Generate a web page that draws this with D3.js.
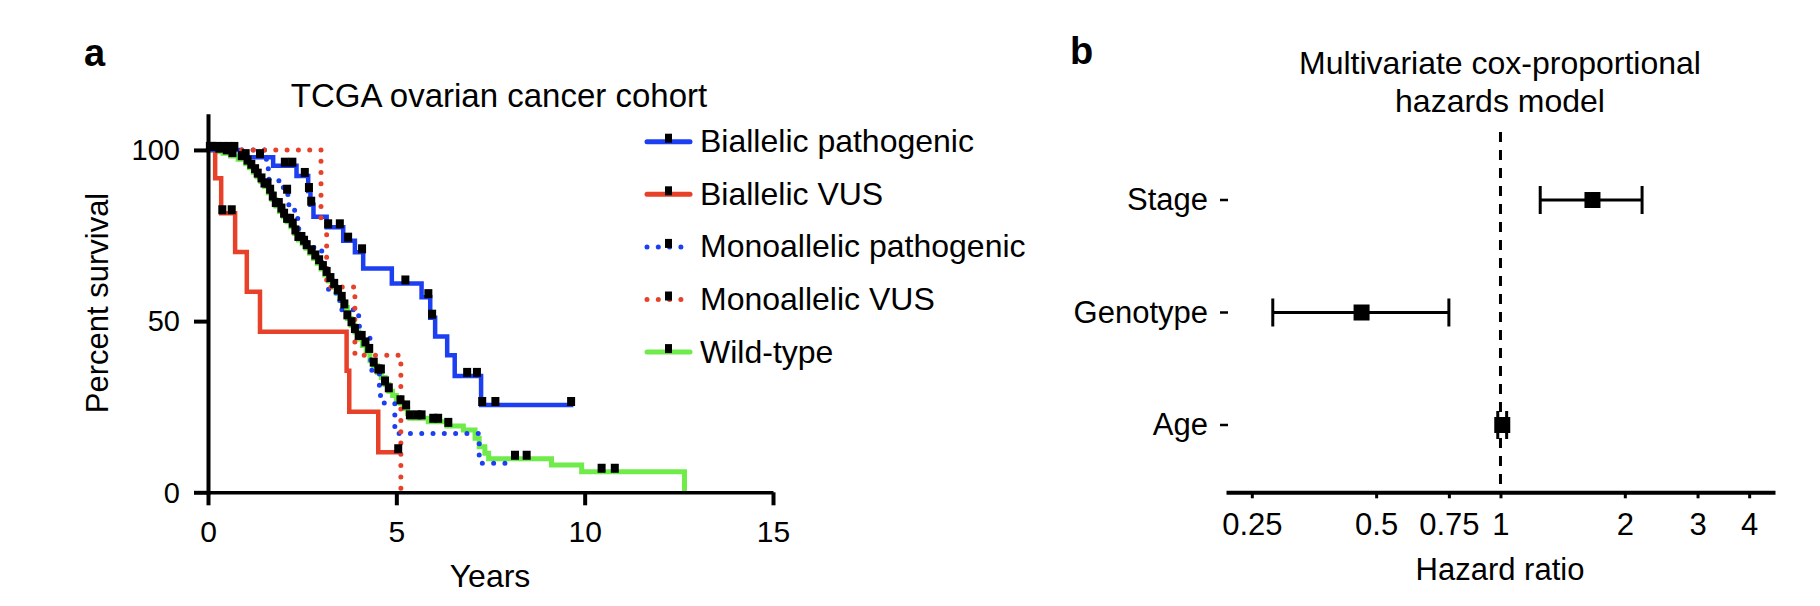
<!DOCTYPE html>
<html>
<head>
<meta charset="utf-8">
<script src="https://cdn.jsdelivr.net/npm/d3@7"></script>
<style>
  body { margin: 0; background: #fff; }
  text { font-family: "Liberation Sans", Arial, Helvetica, sans-serif; fill: #000; }
</style>
</head>
<body>
<svg id="figure" width="1820" height="606"></svg>
<script>
// ---- panel a: Kaplan-Meier survival, TCGA ovarian cohort ----
var yearTicks = [0, 5, 10, 15];
var survivalTicks = [0, 50, 100];
var groupNames = ["Biallelic pathogenic", "Biallelic VUS", "Monoallelic pathogenic", "Monoallelic VUS", "Wild-type"];

// [years, percent surviving] after each step
var biallelicPath = [[0,100],[0.85,97.9],[1.73,95.4],[2.35,92.4],[2.66,88],[2.72,84],[2.8,80.5],[3.15,77.4],[3.59,73.5],[3.9,70.1],[4.12,65.4],[4.88,61],[5.67,57],[5.9,51],[6.03,45.5],[6.35,40],[6.55,34],[7.25,25.5]];
var biallelicPathEnd = 9.7;
var biallelicPathCensor = [0.05,0.15,0.25,0.4,0.55,0.7,1.0,1.38,2.04,2.24,2.57,2.68,2.74,3.19,3.5,3.72,4.09,5.24,5.85,5.95,6.88,7.14,7.28,7.63,9.64];

var biallelicVus = [[0,100],[0.19,91.7],[0.35,81.5],[0.72,70.2],[1.03,58.6],[1.38,46.9],[3.68,35.5],[3.75,23.5],[4.52,11.7]];
var biallelicVusEnd = 5.1;
var biallelicVusCensor = [0.38,0.63,5.05];

var monoallelicPath = [[0,100],[1.55,94.5],[1.62,91],[2.0,87.5],[2.12,84],[2.3,80],[2.4,77],[2.45,73],[2.7,71.5],[3.02,67],[3.15,63],[3.2,59],[3.4,56],[3.55,53.3],[4.0,49],[4.02,45.5],[4.3,41.5],[4.32,38],[4.35,35],[4.55,31],[4.58,28],[4.68,26],[4.96,17.2],[7.2,8.5]];
var monoallelicPathEnd = 7.93;
var monoallelicPathCensor = [2.1];

var monoallelicVus = [[0,100],[3.0,80],[3.15,60],[3.9,40],[5.12,0]];
var monoallelicVusEnd = 5.12;
var monoallelicVusCensor = [];

var wildType = [[0,100],[0.2,99.5],[0.4,99],[0.6,98.2],[0.8,97.3],[1.0,96],[1.1,94.8],[1.2,93.5],[1.3,92.2],[1.4,90.8],[1.5,89.3],[1.6,87.5],[1.7,85.5],[1.8,83.6],[1.9,82],[2.0,80.5],[2.1,79],[2.2,77.6],[2.3,75.6],[2.4,73.7],[2.5,72.6],[2.6,71.3],[2.7,69.8],[2.8,68.3],[2.9,66.9],[3.0,65.2],[3.1,63.5],[3.2,61.7],[3.3,60],[3.4,58.2],[3.5,56.2],[3.6,54],[3.7,50.8],[3.8,48.8],[3.9,46.8],[4.0,44.8],[4.1,42.9],[4.2,41],[4.3,38.5],[4.4,37],[4.5,35],[4.6,33.5],[4.7,31.5],[4.8,29.5],[4.9,28.3],[5.0,27],[5.1,26],[5.2,24.5],[5.3,23],[5.36,21.6],[5.85,20.6],[6.34,19.4],[6.78,18.2],[7.09,15.8],[7.2,13.3],[7.35,11.4],[7.45,9.8],[9.12,8.0],[9.92,6.0],[12.65,0]];
var wildTypeEnd = 12.65;
var wildTypeCensor = [0.1,0.3,0.5,0.65,0.9,1.05,1.15,1.25,1.32,1.42,1.5,1.58,1.65,1.72,1.8,1.88,1.95,2.02,2.1,2.18,2.25,2.32,2.4,2.48,2.55,2.62,2.75,2.85,2.95,3.05,3.15,3.25,3.35,3.45,3.55,3.62,3.7,3.81,3.9,4.0,4.08,4.18,4.28,4.4,4.52,4.59,4.7,4.8,5.11,5.26,5.36,5.56,5.67,5.98,6.11,6.38,8.15,8.46,10.45,10.8];

// ---- panel b: multivariate cox model ----
var covariates = ["Stage", "Genotype", "Age"];
var hazardRatio = [1.67, 0.461, 1.01];
var ciLow = [1.248, 0.281, 0.985];
var ciHigh = [2.202, 0.75, 1.035];
var hrTicks = [0.25, 0.5, 0.75, 1, 2, 3, 4];

var svg = d3.select("#figure");

var x = d3.scaleLinear().domain([0, 15]).range([208, 773]);
var y = d3.scaleLinear().domain([0, 110]).range([492.3, 115.7]);

// series styling, drawn bottom to top
var series = [
	{name: groupNames[4], steps: wildType, end: wildTypeEnd, censor: wildTypeCensor, color: "#6fec4a", width: 5, dots: false},
	{name: groupNames[1], steps: biallelicVus, end: biallelicVusEnd, censor: biallelicVusCensor, color: "#e8412a", width: 4.5, dots: false},
	{name: groupNames[0], steps: biallelicPath, end: biallelicPathEnd, censor: biallelicPathCensor, color: "#1c3ff2", width: 4.5, dots: false},
	{name: groupNames[2], steps: monoallelicPath, end: monoallelicPathEnd, censor: monoallelicPathCensor, color: "#1c3ff2", width: 5, dots: true},
	{name: groupNames[3], steps: monoallelicVus, end: monoallelicVusEnd, censor: monoallelicVusCensor, color: "#e8412a", width: 5, dots: true}
];

function survivalAt(steps, t){
	var s = steps[0][1];
	for(var i=0;i<steps.length;i++){
		if(steps[i][0]<=t){ s = steps[i][1]; }
	}
	return s;
}

var kmLine = d3.line()
	.x(function(d){return x(d[0]);})
	.y(function(d){return y(d[1]);})
	.curve(d3.curveStepAfter);

var panelA = svg.append("g").attr("class","panelA");

panelA.selectAll("path.km")
	.data(series)
	.enter()
	.append("path")
	.attr("class","km")
	.attr("fill","none")
	.attr("stroke",function(d){return d.color;})
	.attr("stroke-width",function(d){return d.width;})
	.attr("stroke-linecap",function(d){return d.dots ? "round" : "butt";})
	.attr("stroke-dasharray",function(d){return d.dots ? "0 11.3" : null;})
	.attr("d",function(d){
		var last = d.steps[d.steps.length-1];
		return kmLine(d.steps.concat([[d.end, last[1]]]));
	});

// censor marks
series.forEach(function(s){
	panelA.selectAll(null)
	.data(s.censor)
	.enter()
	.append("rect")
	.attr("x",function(t){return x(t)-4;})
	.attr("y",function(t){return y(survivalAt(s.steps,t))-8;})
	.attr("width",8)
	.attr("height",9)
	.attr("fill","#000");
});

// axes
var xAxis = d3.axisBottom(x).tickValues(yearTicks).tickSize(13).tickSizeOuter(0);
var gx = panelA.append("g")
	.attr("transform","translate(0,"+y(0)+")")
	.call(xAxis);
gx.select(".domain").attr("stroke-width",3.5);
gx.selectAll(".tick line").attr("stroke-width",4);
gx.selectAll(".tick text")
	.attr("y",28)
	.style("font-size","30px")
	.style("font-family","Liberation Sans, Arial, sans-serif");

var yAxis = d3.axisLeft(y).tickValues(survivalTicks).tickSize(14).tickSizeOuter(0);
var gy = panelA.append("g")
	.attr("transform","translate("+x(0)+",0)")
	.call(yAxis);
gy.select(".domain").attr("stroke-width",4).attr("stroke-linecap","square");
gy.selectAll(".tick line").attr("stroke-width",4);
gy.selectAll(".tick text")
	.attr("x",-28)
	.attr("dy","0.34em")
	.style("font-size","29px")
	.style("font-family","Liberation Sans, Arial, sans-serif");

panelA.append("text")
	.attr("x",499).attr("y",107)
	.attr("text-anchor","middle")
	.style("font-size","33px")
	.text("TCGA ovarian cancer cohort");

panelA.append("text")
	.attr("transform","translate(108,303) rotate(-90)")
	.attr("text-anchor","middle")
	.style("font-size","31px")
	.text("Percent survival");

panelA.append("text")
	.attr("x",490).attr("y",587)
	.attr("text-anchor","middle")
	.style("font-size","32px")
	.text("Years");

panelA.append("text")
	.attr("x",84).attr("y",66)
	.style("font-size","38px")
	.style("font-weight","bold")
	.text("a");

// legend
var legendOrder = [2, 1, 3, 4, 0];
var legend = panelA.selectAll("g.legend")
	.data(legendOrder.map(function(k){return series[k];}))
	.enter()
	.append("g")
	.attr("class","legend")
	.attr("transform",function(d,i){return "translate(645,"+(141.7+52.6*i)+")";});

legend.append("line")
	.attr("x1",2).attr("x2",45)
	.attr("stroke",function(d){return d.color;})
	.attr("stroke-width",5)
	.attr("stroke-linecap","round")
	.attr("stroke-dasharray",function(d){return d.dots ? "0 11.3" : null;});

legend.append("rect")
	.attr("x",20).attr("y",-8)
	.attr("width",7).attr("height",9)
	.attr("fill","#000");

legend.append("text")
	.attr("x",55).attr("y",10.5)
	.style("font-size","32px")
	.text(function(d){return d.name;});

// ---- panel b ----
var panelB = svg.append("g").attr("class","panelB");

var hrX = d3.scaleLog().domain([0.2165, 4.62]).range([1226, 1775]);
var rowY = d3.scalePoint().domain(covariates).range([200, 425]);
var axisY = 492.3;

panelB.append("line")
	.attr("x1",hrX(1)).attr("x2",hrX(1))
	.attr("y1",132).attr("y2",axisY)
	.attr("stroke","#000")
	.attr("stroke-width",3)
	.attr("stroke-dasharray","10 8");

var rows = panelB.selectAll("g.row")
	.data(covariates)
	.enter()
	.append("g")
	.attr("class","row")
	.attr("transform",function(d){return "translate(0,"+rowY(d)+")";});

rows.append("line")
	.attr("x1",function(d,i){return hrX(ciLow[i]);})
	.attr("x2",function(d,i){return hrX(ciHigh[i]);})
	.attr("stroke","#000").attr("stroke-width",3);

rows.append("line")
	.attr("x1",function(d,i){return hrX(ciLow[i]);})
	.attr("x2",function(d,i){return hrX(ciLow[i]);})
	.attr("y1",-14).attr("y2",14)
	.attr("stroke","#000").attr("stroke-width",3);

rows.append("line")
	.attr("x1",function(d,i){return hrX(ciHigh[i]);})
	.attr("x2",function(d,i){return hrX(ciHigh[i]);})
	.attr("y1",-14).attr("y2",14)
	.attr("stroke","#000").attr("stroke-width",3);

rows.append("rect")
	.attr("x",function(d,i){return hrX(hazardRatio[i])-8;})
	.attr("y",-8)
	.attr("width",16).attr("height",16)
	.attr("fill","#000");

rows.append("line")
	.attr("x1",1220).attr("x2",1228)
	.attr("stroke","#000").attr("stroke-width",2.5);

rows.append("text")
	.attr("x",1208)
	.attr("dy","0.33em")
	.attr("text-anchor","end")
	.style("font-size","31px")
	.text(function(d){return d;});

var hrAxis = d3.axisBottom(hrX)
	.tickValues(hrTicks)
	.tickFormat(function(d){return String(d);})
	.tickSize(6)
	.tickSizeOuter(0);
var gb = panelB.append("g")
	.attr("transform","translate(0,"+axisY+")")
	.call(hrAxis);
gb.select(".domain").attr("stroke-width",4);
gb.selectAll(".tick line").attr("stroke-width",3);
gb.selectAll(".tick text")
	.attr("y",21)
	.style("font-size","31px")
	.style("font-family","Liberation Sans, Arial, sans-serif");

panelB.append("text")
	.attr("x",1500).attr("y",580)
	.attr("text-anchor","middle")
	.style("font-size","31px")
	.text("Hazard ratio");

panelB.append("text")
	.attr("x",1500).attr("y",74)
	.attr("text-anchor","middle")
	.style("font-size","32px")
	.text("Multivariate cox-proportional");

panelB.append("text")
	.attr("x",1500).attr("y",112)
	.attr("text-anchor","middle")
	.style("font-size","32px")
	.text("hazards model");

panelB.append("text")
	.attr("x",1070).attr("y",64)
	.style("font-size","38px")
	.style("font-weight","bold")
	.text("b");
</script>
</body>
</html>
